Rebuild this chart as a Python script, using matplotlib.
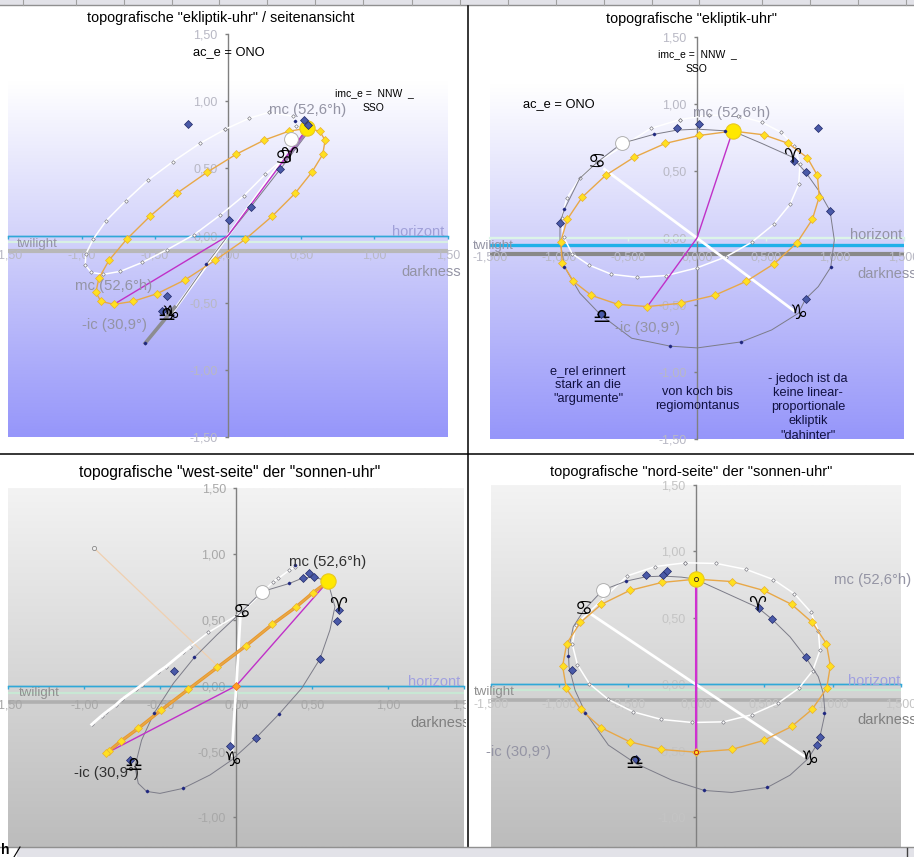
import numpy as np
import matplotlib
matplotlib.use("Agg")
import matplotlib.pyplot as plt
from matplotlib.patches import Rectangle
from matplotlib.transforms import Bbox, TransformedBbox, IdentityTransform
from matplotlib.colors import LinearSegmentedColormap

plt.rcParams['font.family'] = ['Liberation Sans', 'DejaVu Sans']

TICKS_Y = [-1.5, -1.0, -0.5, 0.0, 0.5, 1.0, 1.5]
TICKS_X = [-1.5, -1.0, -0.5, 0.0, 0.5, 1.0, 1.5]
LABELS_2 = ['-1,50', '-1,00', '-0,50', '0,00', '0,50', '1,00', '1,50']
LABELS_3 = ['-1,500', '-1,000', '-0,500', '0,000', '0,500', '1,000', '1,500']

# ---- top left: seitenansicht
tl_yellow_x = [.542,.626,.663,.647,.572,.458,.301,.118,-.089,-.292,-.485,-.649,-.779,-.868,-.902,-.882,-.813,-.692,-.533,-.349,-.144,.055,.246,.415,.542]
tl_yellow_y = [.799,.777,.710,.605,.471,.315,.144,-.027,-.184,-.328,-.432,-.489,-.511,-.489,-.422,-.318,-.184,-.027,.144,.315,.471,.605,.710,.777,.799]
tl_white_x = [-.018,.144,.280,.444,.465,.376,.255,.109,-.055,-.232,-.415,-.585,-.736,-.854,-.934,-.975,-.970,-.920,-.831,-.699,-.547,-.376,-.191,-.018]
tl_white_y = [.792,.873,.918,.888,.819,.571,.457,.298,.151,.007,-.104,-.199,-.266,-.288,-.273,-.218,-.136,-.025,.112,.258,.412,.551,.687,.792]
tl_curve_x = [.547,.358,.155,0,-.148,-.353,-.565]
tl_curve_y = [.769,.496,.213,0,-.213,-.533,-.799]
tl_big_x = [-.276,.517,.549,.358,.155,.005,-.419,-.453]
tl_big_y = [.831,.861,.824,.496,.213,.117,-.449,-.561]
tl_small_x = [-.148,-.565,.456]
tl_small_y = [-.213,-.799,.856]
tl_axis_x = [.376,0,-.387]
tl_axis_y = [.571,0,-.583]
tl_mer_x = [.542,0,-.779]
tl_mer_y = [.799,0,-.511]
tl_sun = (.542,.799)
tl_moon = (.433,.720)

# ---- top right: ekliptik-uhr
tr_yellow_x = [.258,.483,.662,.800,.872,.886,.836,.725,.560,.357,.128,-.118,-.360,-.575,-.766,-.896,-.976,-.988,-.940,-.833,-.662,-.459,-.229,.017,.258]
tr_yellow_y = [.797,.769,.705,.598,.467,.308,.139,-.035,-.191,-.323,-.427,-.486,-.511,-.494,-.427,-.323,-.186,-.030,.139,.303,.467,.600,.705,.764,.797]
tr_white_x = [-.121,-.336,-.725,-.850,-.944,-.981,-.966,-.903,-.780,-.621,-.432,-.222,-.002,.208,.396,.556,.674,.737,.746,.705,.611,.473,.300,.089,-.121]
tr_white_y = [.883,.816,.563,.444,.295,.146,.005,-.119,-.203,-.270,-.293,-.280,-.223,-.141,-.032,.102,.251,.400,.548,.682,.787,.861,.911,.916,.883]
tr_curve_x = [.258,.469,.686,.787,.879,.964,.995,.969,.879,.787,.734,.541,.321,.002,-.193,-.473,-.698,-.848,-.961,-.993,-.993,-.961,-.850,-.725,-.546,-.314,-.145,.002,.203,.258]
tr_curve_y = [.797,.705,.605,.491,.357,.203,-.015,-.218,-.362,-.454,-.561,-.685,-.774,-.819,-.806,-.747,-.573,-.412,-.213,-.015,.114,.213,.444,.563,.705,.772,.804,.811,.799,.797]
tr_big_x = [.877,.014,-.145,.703,.787,.964,.787,-.698,-.993]
tr_big_y = [.819,.849,.819,.573,.491,.203,-.454,-.566,.114]
tr_small_x = [-.314,-.961,-.961,.969,.321,-.193,.203]
tr_small_y = [.772,.213,-.213,-.218,-.774,-.806,.799]
tr_axis_x = [-.679,0,.710]
tr_axis_y = [.519,0,-.548]
tr_mer_x = [.258,0,-.360]
tr_mer_y = [.797,0,-.511]
tr_sun = (.258,.797)
tr_moon = (-.546,.705)

# ---- bottom left: west-seite
bl_yellow_x = [.601,.504,.395,.237,.064,-.125,-.316,-.496,-.645,-.761,-.836,-.857]
bl_yellow_y = [.790,.706,.600,.466,.304,.139,-.028,-.187,-.324,-.423,-.494,-.514]
bl_white_x = [.386,.349,.276,.243,.035,-.184,-.305,-.351,-.465,-.513,-.623,-.662,-.754,-.794,-.860,-.886,-.952]
bl_white_y = [.904,.878,.815,.790,.557,.405,.296,.253,.144,.106,.005,-.028,-.104,-.147,-.203,-.228,-.294]
bl_curve_x = [.601,.649,.616,.550,.430,.279,.129,-.031,-.173,-.351,-.502,-.590,-.645,-.667,-.623,-.542,-.414,-.276,-.129,.035,.167,.349,.436,.511,.601]
bl_curve_y = [.795,.600,.423,.203,-.020,-.218,-.397,-.565,-.678,-.780,-.818,-.803,-.742,-.615,-.413,-.210,.018,.215,.385,.562,.714,.777,.818,.825,.795]
bl_big_x = [.436,.478,.511,.675,.662,.550,.129,-.042,-.410,-.700]
bl_big_y = [.818,.856,.825,.575,.491,.203,-.397,-.458,.114,-.565]
bl_small_x = [.349,.279,-.351,-.590,-.542,-.276,.386]
bl_small_y = [.777,-.218,-.780,-.803,-.210,.215,.920]
bl_axis_x = [.028,0,-.031]
bl_axis_y = [.552,0,-.540]
bl_mer_x = [.601,0,-.857]
bl_mer_y = [.790,0,-.514]
bl_sun = (.601,.795)
bl_moon = (.167,.714)
bl_pale_x = [-.936,-.129]
bl_pale_y = [1.046,.157]

# ---- bottom right: nord-seite
br_yellow_x = [0,.261,.495,.700,.851,.954,.983,.956,.849,.700,.495,.261,0,-.254,-.485,-.693,-.844,-.949,-.976,-.946,-.846,-.693,-.485,-.251,0]
br_yellow_y = [.792,.774,.707,.602,.466,.308,.140,-.030,-.188,-.316,-.421,-.489,-.509,-.489,-.431,-.326,-.188,-.030,.138,.308,.466,.602,.707,.767,.792]
br_white_x = [-.078,-.298,-.502,-.880,-.905,-.868,-.780,-.641,-.459,-.254,-.027,.200,.407,.600,.751,.854,.907,.895,.839,.720,.566,.368,.149,-.078]
br_white_y = [.915,.887,.817,.449,.301,.150,.005,-.113,-.206,-.263,-.286,-.281,-.228,-.140,-.030,.103,.256,.404,.546,.682,.789,.865,.910,.915]
br_curve_x = [0,.066,.451,.556,.688,.802,.895,.932,.944,.907,.883,.822,.688,.522,.261,.061,-.178,-.441,-.641,-.810,-.885,-.929,-.934,-.898,-.820,-.683,-.512,-.366,-.239,-.105,0]
br_curve_y = [.792,.759,.579,.491,.358,.206,.058,-.068,-.218,-.393,-.454,-.556,-.682,-.774,-.812,-.797,-.719,-.594,-.456,-.211,-.043,.133,.258,.434,.559,.709,.777,.810,.815,.807,.792]
br_big_x = [-.366,-.239,-.215,.459,.556,.802,.907,.883,-.441,-.910]
br_big_y = [.822,.822,.850,.576,.491,.206,-.393,-.454,-.564,.108]
br_small_x = [-.512,-.934,-.810,.061,.522,.939]
br_small_y = [.777,.216,-.211,-.797,-.774,-.218]
br_axis_x = [-.776,0,.798]
br_axis_y = [.534,0,-.544]
br_mer_x = [0,0,0]
br_mer_y = [.792,0,-.509]
br_sun = (0,.792)
br_moon = (-.683,.709)

W, H = 914, 857
fig = plt.figure(figsize=(W/100, H/100), dpi=100, facecolor='white')

lav = LinearSegmentedColormap.from_list('lav', [(0, (1,1,1)), (.12, (1,1,1)), (.55, (205/255,205/255,250/255)), (1, (150/255,150/255,250/255))])
gry = LinearSegmentedColormap.from_list('gry', [(243/255,)*3,(188/255,)*3])

def clipbox(x0, x1, ytop, ybot):
    return TransformedBbox(Bbox([[x0, H-ybot],[x1, H-ytop]]), IdentityTransform())

def panel(px, ylim, cmap, labels, zero_color, zero_lw, twi_y, twi_c, dark_y, dark_c, dark_lw, hor_y, hor_c, hor_lw,
          yel, wht, crv, big, small, axis, mer, sun, moon, clip, tickc='#b8b8c4'):
    x0, x1, yt, yb = px
    ax = fig.add_axes([x0/W, 1-yb/H, (x1-x0)/W, (yb-yt)/H], facecolor='none')
    g = np.linspace(0, 1, 256).reshape(-1, 1)
    ax.imshow(g, cmap=cmap, aspect='auto', extent=(0, 1, 0, 1), transform=ax.transAxes, zorder=0)
    ax.set_xlim(-1.5, 1.5); ax.set_ylim(*ylim)
    for s in ('top', 'right'):
        ax.spines[s].set_visible(False)
    ax.spines['left'].set_position(('data', 0)); ax.spines['left'].set_color('#808080'); ax.spines['left'].set_linewidth(1)
    ax.spines['bottom'].set_position(('data', 0)); ax.spines['bottom'].set_color(zero_color); ax.spines['bottom'].set_linewidth(zero_lw)
    ax.spines['left'].set_zorder(1.5); ax.spines['bottom'].set_zorder(1.6)
    yt_v = [t for t in TICKS_Y if ylim[0] <= t <= ylim[1]]
    ax.set_yticks(yt_v); ax.set_yticklabels([LABELS_2[TICKS_Y.index(t)] for t in yt_v])
    ax.set_xticks(TICKS_X); ax.set_xticklabels(labels)
    ax.tick_params(axis='y', length=2.5, color='#808080', labelcolor=tickc, labelsize=9, pad=5, width=1)
    ax.tick_params(axis='x', length=2.5, color=zero_color, labelcolor=tickc, labelsize=9, pad=7.5, width=1)
    for lab in ax.get_xticklabels():
        lab.set_clip_on(True); lab.set_clip_box(clip)
    ax.patch.set_visible(False)
    ax.axhline(twi_y, color=twi_c, lw=1.6, zorder=1.2)
    ax.axhline(hor_y, color=hor_c, lw=hor_lw, zorder=1.3)
    ax.axhline(dark_y, color=dark_c, lw=dark_lw, zorder=1.2)
    ax.plot(wht[0], wht[1], color='white', lw=1.1, marker='D', ms=1.9, mfc='white', mec='#808088', mew=.5, zorder=3)
    ax.plot(axis[0], axis[1], color='white', lw=2.0, zorder=3.1, solid_capstyle='butt')
    ax.plot(crv[0], crv[1], color='#7c7c88', lw=.7, zorder=3.2)
    ax.plot(mer[0], mer[1], color='#c030c8', lw=1.0, zorder=3.6)
    ax.plot(yel[0], yel[1], color='#e8a848', lw=1.0, marker='D', ms=3.8, mfc='#ffe020', mec='#e8b030', mew=.5, zorder=4)
    ax.plot(small[0], small[1], ls='', marker='D', ms=1.3, mfc='#202880', mec='#202880', zorder=5)
    ax.plot(big[0], big[1], ls='', marker='D', ms=3.6, mfc='#4a5aa8', mec='#202868', mew=.5, zorder=5)
    ax.plot([moon[0]], [moon[1]], marker='o', ms=10, mfc='white', mec='#b0b0b0', mew=.7, zorder=4.5)
    ax.plot([sun[0]], [sun[1]], marker='o', ms=11, mfc='#ffe800', mec='#e8c820', mew=.8, zorder=4.6)
    return ax

# Top left
c = clipbox(0, 466, 6, 452)
ax_tl = panel((8.3, 447.7, 34, 437.3), (-1.5, 1.5), lav, LABELS_2, '#30a8d8', 1.0, -.045, '#d8f0e4', -.117, '#b8b8b8', 3.0, 0, '#30a8d8', 1.0,
      (tl_yellow_x, tl_yellow_y), (tl_white_x, tl_white_y), (tl_curve_x, tl_curve_y), (tl_big_x, tl_big_y), (tl_small_x, tl_small_y),
      (tl_axis_x, tl_axis_y), (tl_mer_x, tl_mer_y), tl_sun, tl_moon, c)
ax_tl.plot([tl_curve_x[-1], -.364], [tl_curve_y[-1], -.533], color='#8c8c90', lw=2.6, zorder=3.3)
ax_tl.plot([.376, .524], [.546, .757], color='#a080b8', lw=2.4, zorder=3.3)

# Top right
c = clipbox(468, 914, 6, 453)
panel((490, 904, 36.7, 439.3), (-1.5, 1.5), lav, LABELS_3, '#dcf4e8', 1.6, 0, '#dcf4e8', -.122, '#888888', 3.0, -.05, '#20b0e8', 2.4,
      (tr_yellow_x, tr_yellow_y), (tr_white_x, tr_white_y), (tr_curve_x, tr_curve_y), (tr_big_x, tr_big_y), (tr_small_x, tr_small_y),
      (tr_axis_x, tr_axis_y), (tr_mer_x, tr_mer_y), tr_sun, tr_moon, c)

# Bottom left
c = clipbox(0, 466, 455, 846)
ax_bl = panel((8.3, 464.3, 488.3, 846.7), (-1.223, 1.5), gry, LABELS_2, '#30a8d8', 1.0, -.058, '#c8e8d4', -.127, '#b0b0b0', 2.6, 0, '#30a8d8', 1.0,
      (bl_yellow_x, bl_yellow_y), (bl_white_x, bl_white_y), (bl_curve_x, bl_curve_y), (bl_big_x, bl_big_y), (bl_small_x, bl_small_y),
      (bl_axis_x, bl_axis_y), (bl_mer_x, bl_mer_y), bl_sun, bl_moon, c, tickc='#a8a8a8')
ax_bl.plot(bl_yellow_x, bl_yellow_y, color='#e8982c', lw=2.4, zorder=3.9)
ax_bl.plot(bl_white_x[6:], bl_white_y[6:], color='white', lw=2.0, zorder=3.05)
ax_bl.plot(bl_pale_x, bl_pale_y, color='#f0d0b0', lw=.9, zorder=2)
ax_bl.plot(bl_pale_x[:1], bl_pale_y[:1], marker='o', ms=3, mfc='#f0f0f0', mec='#888888', mew=.6, zorder=2)
ax_bl.plot([0], [0], marker='D', ms=3.8, mfc='#ffa020', mec='#e87020', mew=.5, zorder=4.7)

# Bottom right
c = clipbox(468, 914, 456, 846)
ax_br = panel((491, 901, 485, 846.7), (-1.22, 1.5), gry, LABELS_3, '#30a8d8', 1.0, -.043, '#c8e8d4', -.118, '#b0b0b0', 2.6, 0, '#30a8d8', 1.0,
      (br_yellow_x, br_yellow_y), (br_white_x, br_white_y), (br_curve_x, br_curve_y), (br_big_x, br_big_y), (br_small_x, br_small_y),
      (br_axis_x, br_axis_y), (br_mer_x, br_mer_y), br_sun, br_moon, c, tickc='#c4c4c4')
ax_br.plot(br_mer_x, br_mer_y, color='#d030d0', lw=1.5, zorder=3.7)
ax_br.plot([0], [br_yellow_y[12]], marker='o', ms=3, mfc='#ffe020', mec='#c02020', mew=.7, zorder=4.7)
ax_br.plot([br_sun[0]], [br_sun[1]], marker='o', ms=3, mfc='#ffe020', mec='#302020', mew=.6, zorder=4.7)

# overlay in pixels for labels and window chrome
ov = fig.add_axes([0, 0, 1, 1], facecolor='none', zorder=10)
ov.set_xlim(0, W); ov.set_ylim(H, 0); ov.axis('off')

def T(x, y, s, size=10, color='black', clip=None, **k):
    t = ov.text(x, y, s, fontsize=size, color=color, ha=k.pop('ha', 'center'), va='center', **k)
    if clip is not None:
        t.set_clip_on(True); t.set_clip_box(clip)
    return t

def Z(x, y, s):
    ov.text(x, y, s, fontsize=14.5, color='black', ha='center', va='center', family=['DejaVu Sans'])

grey = '#9494a4'
MC = 10.7
# titles
T(221, 18, 'topografische "ekliptik-uhr" / seitenansicht', 10.4)
T(691, 19, 'topografische "ekliptik-uhr"', 10.35)
T(230, 472, 'topografische "west-seite" der "sonnen-uhr"', 11.25)
T(691, 472, 'topografische "nord-seite" der "sonnen-uhr"', 10.5)
# top left
T(229, 52, 'ac_e = ONO', 9.3)
T(374, 93.5, 'imc_e =  NNW  _', 7.5)
T(374, 108, 'SSO', 7.5)
T(308, 110, 'mc (52,6°h)', MC, grey)
T(114, 286, 'mc (52,6°h)', MC, grey)
T(114, 325, '-ic (30,9°)', MC, grey)
T(418, 232, 'horizont', 10.5, '#a0a0d8')
T(37, 244, 'twilight', 9.5, grey)
T(431, 272, 'darkness', 10.5, grey, clip=clipbox(0, 466, 6, 452))
Z(289, 156, '♈'); Z(284, 158, '♋'); Z(170, 314, '♑'); Z(166, 316, '♎')
# top right
T(697, 54, 'imc_e =  NNW  _', 7.5)
T(697, 69, 'SSO', 7.5)
T(559, 104, 'ac_e = ONO', 9.3)
T(732, 113, 'mc (52,6°h)', MC, grey)
T(647, 328, '-ic (30,9°)', MC, grey)
T(876, 235, 'horizont', 10.5, grey)
T(493, 246, 'twilight', 9.5, grey)
T(887, 274, 'darkness', 10.5, grey, clip=clipbox(468, 914, 6, 453))
Z(792, 157, '♈'); Z(597, 162, '♋'); Z(601, 317, '♎'); Z(798, 313, '♑')
nav = '#101040'
T(588, 385, 'e_rel erinnert\nstark an die\n"argumente"', 9.2, nav, linespacing=1.25)
T(697, 399, 'von koch bis\nregiomontanus', 9.2, nav, linespacing=1.25)
T(808, 407, '- jedoch ist da\nkeine linear-\nproportionale\nekliptik\n"dahinter"', 9.2, nav, linespacing=1.25)
# bottom left
T(328, 562, 'mc (52,6°h)', MC, '#303030')
T(106, 773, '-ic (30,9°)', MC, '#303030')
T(434, 682, 'horizont', 10.5, '#a0a0e0')
T(39, 693, 'twilight', 9.5, '#909090')
T(440, 723, 'darkness', 10.5, '#808080', clip=clipbox(0, 466, 455, 846))
Z(338, 606, '♈'); Z(242, 612, '♋'); Z(232, 760, '♑'); Z(133, 766, '♎')
# bottom right
T(873, 580, 'mc (52,6°h)', MC, grey)
T(518, 752, '-ic (30,9°)', MC, grey)
T(874, 681, 'horizont', 10.5, '#a0a0e0')
T(494, 692, 'twilight', 9.5, '#909090')
T(887, 720, 'darkness', 10.5, '#808080', clip=clipbox(468, 914, 456, 846))
Z(757, 605, '♈'); Z(584, 609, '♋'); Z(634, 763, '♎'); Z(809, 759, '♑')

# window chrome
ov.add_patch(Rectangle((0, 0), W, 5, fc='#e2e2e8', ec='none'))
ov.plot([0, W], [5.2, 5.2], color='#909090', lw=1)
for sx in [22.7, 76, 123.7, 171.7, 219, 267, 315, 363, 411.7, 459.7, 507.7, 555.7, 603.7, 652, 699, 762.3, 810, 858, 906]:
    ov.plot([sx, sx], [0, 5], color='#a0a0a0', lw=.8)
ov.plot([0, W], [453.5, 453.5], color='black', lw=1.1)
ov.plot([467.5, 467.5], [6, 847], color='black', lw=1.1)
ov.add_patch(Rectangle((0, 847), W, 10, fc='#e2e2e8', ec='none'))
ov.add_patch(Rectangle((0, 847), 17, 10, fc='white', ec='none'))
ov.plot([0, W], [846.8, 846.8], color='#909090', lw=1)
ov.plot([14, 20], [857, 847], color='black', lw=.8)
ov.plot([907, 907], [848, 857], color='#404040', lw=1)
ov.text(1, 857, 'h', fontsize=10, fontweight='bold', ha='left', va='bottom', clip_on=True)

fig.savefig('out.png', dpi=100)
